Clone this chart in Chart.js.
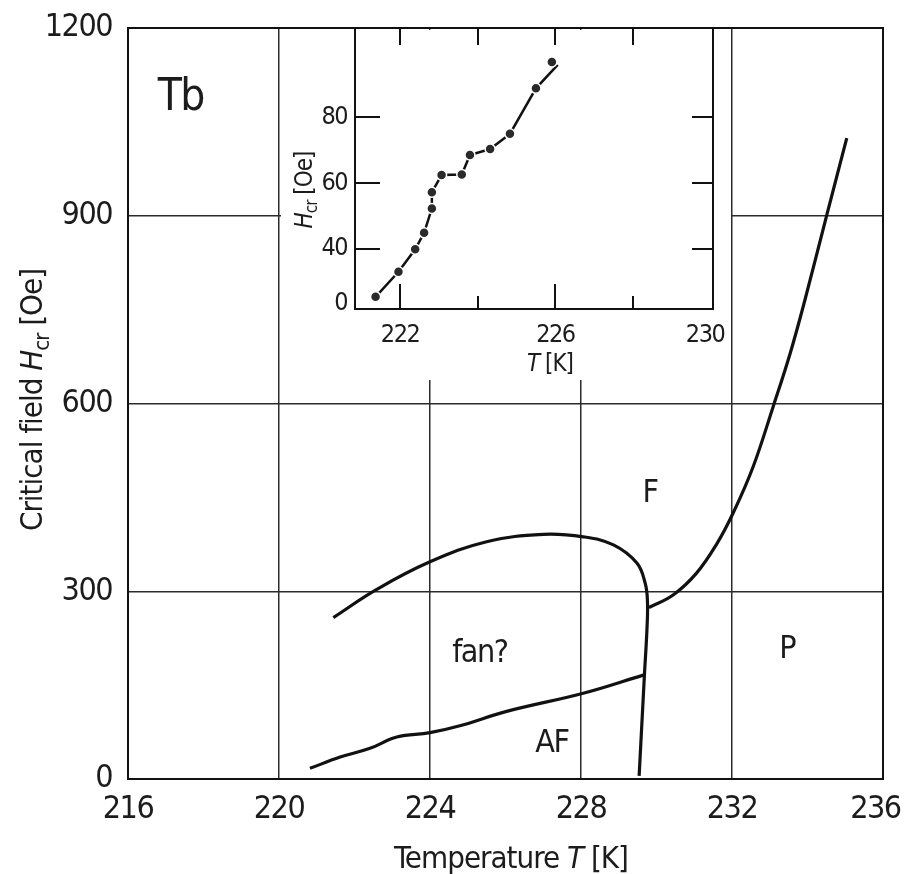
<!DOCTYPE html>
<html><head><meta charset="utf-8">
<script src="https://cdn.jsdelivr.net/npm/chart.js@4/dist/chart.umd.min.js"></script>
<style>
html,body{margin:0;padding:0;background:#fff;}
#wrap{position:relative;width:905px;height:874px;overflow:hidden;}
#main{position:absolute;left:0;top:0;}
#inset{position:absolute;left:281px;top:20px;}
</style></head><body>
<div id="wrap"><canvas id="main" width="905" height="874"></canvas><canvas id="inset" width="450" height="360"></canvas></div>
<script>
const FONT = '"Liberation Sans Narrow", "DejaVu Sans Condensed", "Open Sans", sans-serif';
const INK = '#1c1c1c';

// ---------- main chart data ----------
const mainXTicks = [216, 220, 224, 228, 232, 236];
const mainXLabels = ['216', '220', '224', '228', '232', '236  '];
const mainYTicks = [0, 300, 600, 900, 1200];
// fan? / F boundary continuing down as the AF / F boundary
const fanFTemp  = [221.44, 222.59, 224.0, 225.5, 227.0, 228.06, 228.86, 229.48, 229.70, 229.76, 229.75, 229.68, 229.54];
const fanFField = [258, 303, 347, 379, 391, 387, 374, 345, 313, 285, 243, 166, 5];
// AF / fan? boundary
const afTemp  = [220.82, 221.62, 222.41, 223.12, 224.0, 224.79, 226.03, 228.06, 229.65];
const afField = [17, 35, 49, 67, 74, 85, 108, 137, 166];
// F / P boundary
const fpTemp  = [229.80, 230.44, 231.06, 231.59, 232.03, 232.56, 233.09, 233.54, 233.93, 234.51, 235.04];
const fpField = [274, 294, 329, 375, 425, 499, 595, 680, 765, 901, 1024];
// region labels
const regionText  = ['Tb', 'F', 'fan?', 'AF', 'P'];
const regionTemp  = [217.40, 229.83, 225.32, 227.23, 233.46];
const regionField = [1069, 443, 187, 43, 193];

// ---------- inset data ----------
const insetXTicks  = [222, 224, 226, 228, 230];
const insetXLabels = ['222', '', '226', '', '230  '];
const insetYTicks  = [23.5, 40, 60, 80];
const insetYLabels = ['0', '40', '60', '80'];
const insetTemp  = [221.37, 221.96, 222.39, 222.62, 222.82, 222.82, 223.07, 223.59, 223.80, 224.32, 224.83, 225.50, 225.91];
const insetField = [25.5, 33.1, 39.9, 44.9, 52.3, 57.2, 62.4, 62.6, 68.5, 70.3, 74.9, 88.7, 96.7];
const insetFitTemp  = [221.37, 221.96, 222.39, 222.62, 222.82, 222.82, 223.07, 223.59, 223.80, 224.32, 224.83, 225.50, 226.06];
const insetFitField = [25.5, 33.1, 39.9, 44.9, 52.3, 57.2, 62.4, 62.6, 68.5, 70.3, 74.9, 88.7, 95.8];

const pts = (xs, ys) => xs.map((x, i) => ({x: x, y: ys[i]}));
const noPad = s => { s.paddingLeft = 0; s.paddingRight = 0; s.paddingTop = 0; s.paddingBottom = 0; };

function drawRich(ctx, segs, cx, cy, size, rot, spacing) {
  ctx.save();
  ctx.letterSpacing = spacing + 'px';
  ctx.translate(cx, cy);
  ctx.rotate(rot);
  ctx.fillStyle = INK;
  ctx.textBaseline = 'alphabetic';
  ctx.textAlign = 'left';
  const fonts = segs.map(s => (s.italic ? 'italic ' : '') + (s.sub ? Math.round(size * 0.72) : size) + 'px ' + FONT);
  const widths = segs.map((s, i) => { ctx.font = fonts[i]; return ctx.measureText(s.text).width; });
  let x = -widths.reduce((a, b) => a + b, 0) / 2;
  segs.forEach((s, i) => {
    ctx.font = fonts[i];
    ctx.fillText(s.text, x, s.sub ? size * 0.22 : 0);
    x += widths[i];
  });
  ctx.restore();
}

const mainDecor = {
  id: 'mainDecor',
  beforeDraw(chart) { chart.ctx.letterSpacing = '-1.5px'; },
  afterDraw(chart) {
    const ctx = chart.ctx, a = chart.chartArea;
    const xs = chart.scales.x, ys = chart.scales.y;
    ctx.save();
    ctx.strokeStyle = '#111';
    ctx.lineWidth = 2;
    ctx.strokeRect(a.left, a.top, a.right - a.left, a.bottom - a.top);
    ctx.fillStyle = INK;
    ctx.textAlign = 'center';
    ctx.textBaseline = 'alphabetic';
    regionText.forEach((t, i) => {
      ctx.font = (t === 'Tb' ? 44 : 32) + 'px ' + FONT;
      ctx.fillText(t, xs.getPixelForValue(regionTemp[i]), ys.getPixelForValue(regionField[i]));
    });
    ctx.restore();
    drawRich(ctx, [{text: 'Temperature '}, {text: 'T', italic: true}, {text: ' [K]'}], 511, 868, 31, 0, -1);
    drawRich(ctx, [{text: 'Critical field '}, {text: 'H', italic: true}, {text: 'cr', sub: true}, {text: ' [Oe]'}], 42, 400, 31, -Math.PI / 2, -1);
  }
};

new Chart(document.getElementById('main'), {
  type: 'scatter',
  data: {
    datasets: [
      {data: pts(fanFTemp, fanFField)},
      {data: pts(afTemp, afField)},
      {data: pts(fpTemp, fpField)}
    ].map(d => Object.assign(d, {showLine: true, pointRadius: 0, borderColor: '#111', borderWidth: 3.2, tension: 0.4, fill: false}))
  },
  options: {
    responsive: false, animation: false, events: [],
    layout: {padding: {top: 28, right: 22, left: 0, bottom: 0}},
    plugins: {legend: {display: false}, tooltip: {enabled: false}},
    scales: {
      x: {
        type: 'linear', min: 216, max: 236,
        afterBuildTicks: s => { s.ticks = mainXTicks.map(v => ({value: v})); },
        afterFit: s => { s.height = 95; noPad(s); },
        ticks: {font: {family: FONT, size: 32}, color: INK, padding: 11, autoSkip: false, maxRotation: 0,
                callback: (v, i) => mainXLabels[i]},
        grid: {color: '#2b2b2b', lineWidth: 1.5, drawTicks: false},
        border: {display: false}
      },
      y: {
        type: 'linear', min: 0, max: 1200,
        afterBuildTicks: s => { s.ticks = mainYTicks.map(v => ({value: v})); },
        afterFit: s => { s.width = 128; noPad(s); },
        ticks: {font: {family: FONT, size: 32}, color: INK, padding: 16, autoSkip: false, callback: v => String(v)},
        grid: {color: '#2b2b2b', lineWidth: 1.5, drawTicks: false},
        border: {display: false}
      }
    }
  },
  plugins: [mainDecor]
});

const insetDecor = {
  id: 'insetDecor',
  beforeDraw(chart) {
    const ctx = chart.ctx;
    ctx.save();
    ctx.fillStyle = '#fff';
    ctx.fillRect(0, 10, chart.width, chart.height - 10);
    ctx.restore();
    ctx.letterSpacing = '-1.5px';
  },
  afterDraw(chart) {
    const ctx = chart.ctx, a = chart.chartArea;
    const xs = chart.scales.x, ys = chart.scales.y;
    ctx.save();
    ctx.strokeStyle = '#111';
    ctx.lineWidth = 2;
    ctx.strokeRect(a.left, a.top, a.right - a.left, a.bottom - a.top);
    ctx.beginPath();
    insetXTicks.slice(0, 4).forEach((v, i) => {
      const px = Math.round(xs.getPixelForValue(v));
      const major = i % 2 === 0;
      ctx.moveTo(px, a.bottom); ctx.lineTo(px, a.bottom - (major ? 25 : 13));
      ctx.moveTo(px, a.top); ctx.lineTo(px, a.top + 17);
    });
    insetYTicks.slice(1).forEach(v => {
      const py = Math.round(ys.getPixelForValue(v));
      ctx.moveTo(a.left, py); ctx.lineTo(a.left + 25, py);
      ctx.moveTo(a.right, py); ctx.lineTo(a.right - 21, py);
    });
    ctx.stroke();
    ctx.restore();
    drawRich(ctx, [{text: 'T', italic: true}, {text: ' [K]'}], 269, 351, 24, 0, -1);
    drawRich(ctx, [{text: 'H', italic: true}, {text: 'cr', sub: true}, {text: ' [Oe]'}], 31, 170, 24, -Math.PI / 2, -1);
  }
};

new Chart(document.getElementById('inset'), {
  type: 'scatter',
  data: {
    datasets: [
      {data: pts(insetTemp, insetField), showLine: false, pointRadius: 5, pointBackgroundColor: '#2a2a2a', pointBorderColor: '#fff', pointBorderWidth: 1.5},
      {data: pts(insetFitTemp, insetFitField), showLine: true, pointRadius: 0, borderColor: '#111', borderWidth: 2.5, tension: 0, fill: false}
    ]
  },
  options: {
    responsive: false, animation: false, events: [],
    layout: {padding: {top: 8, right: 18, left: 0, bottom: 0}},
    plugins: {legend: {display: false}, tooltip: {enabled: false}},
    scales: {
      x: {
        type: 'linear', min: 220.84, max: 230.06,
        afterBuildTicks: s => { s.ticks = insetXTicks.map(v => ({value: v})); },
        afterFit: s => { s.height = 71; noPad(s); },
        ticks: {font: {family: FONT, size: 25}, color: INK, padding: 11, autoSkip: false, maxRotation: 0,
                callback: (v, i) => insetXLabels[i]},
        grid: {display: false, drawTicks: false},
        border: {display: false}
      },
      y: {
        type: 'linear', min: 21.8, max: 107,
        afterBuildTicks: s => { s.ticks = insetYTicks.map(v => ({value: v})); },
        afterFit: s => { s.width = 74; noPad(s); },
        ticks: {font: {family: FONT, size: 25}, color: INK, padding: 8, autoSkip: false,
                callback: (v, i) => insetYLabels[i]},
        grid: {display: false, drawTicks: false},
        border: {display: false}
      }
    }
  },
  plugins: [insetDecor]
});
</script>
</body></html>
